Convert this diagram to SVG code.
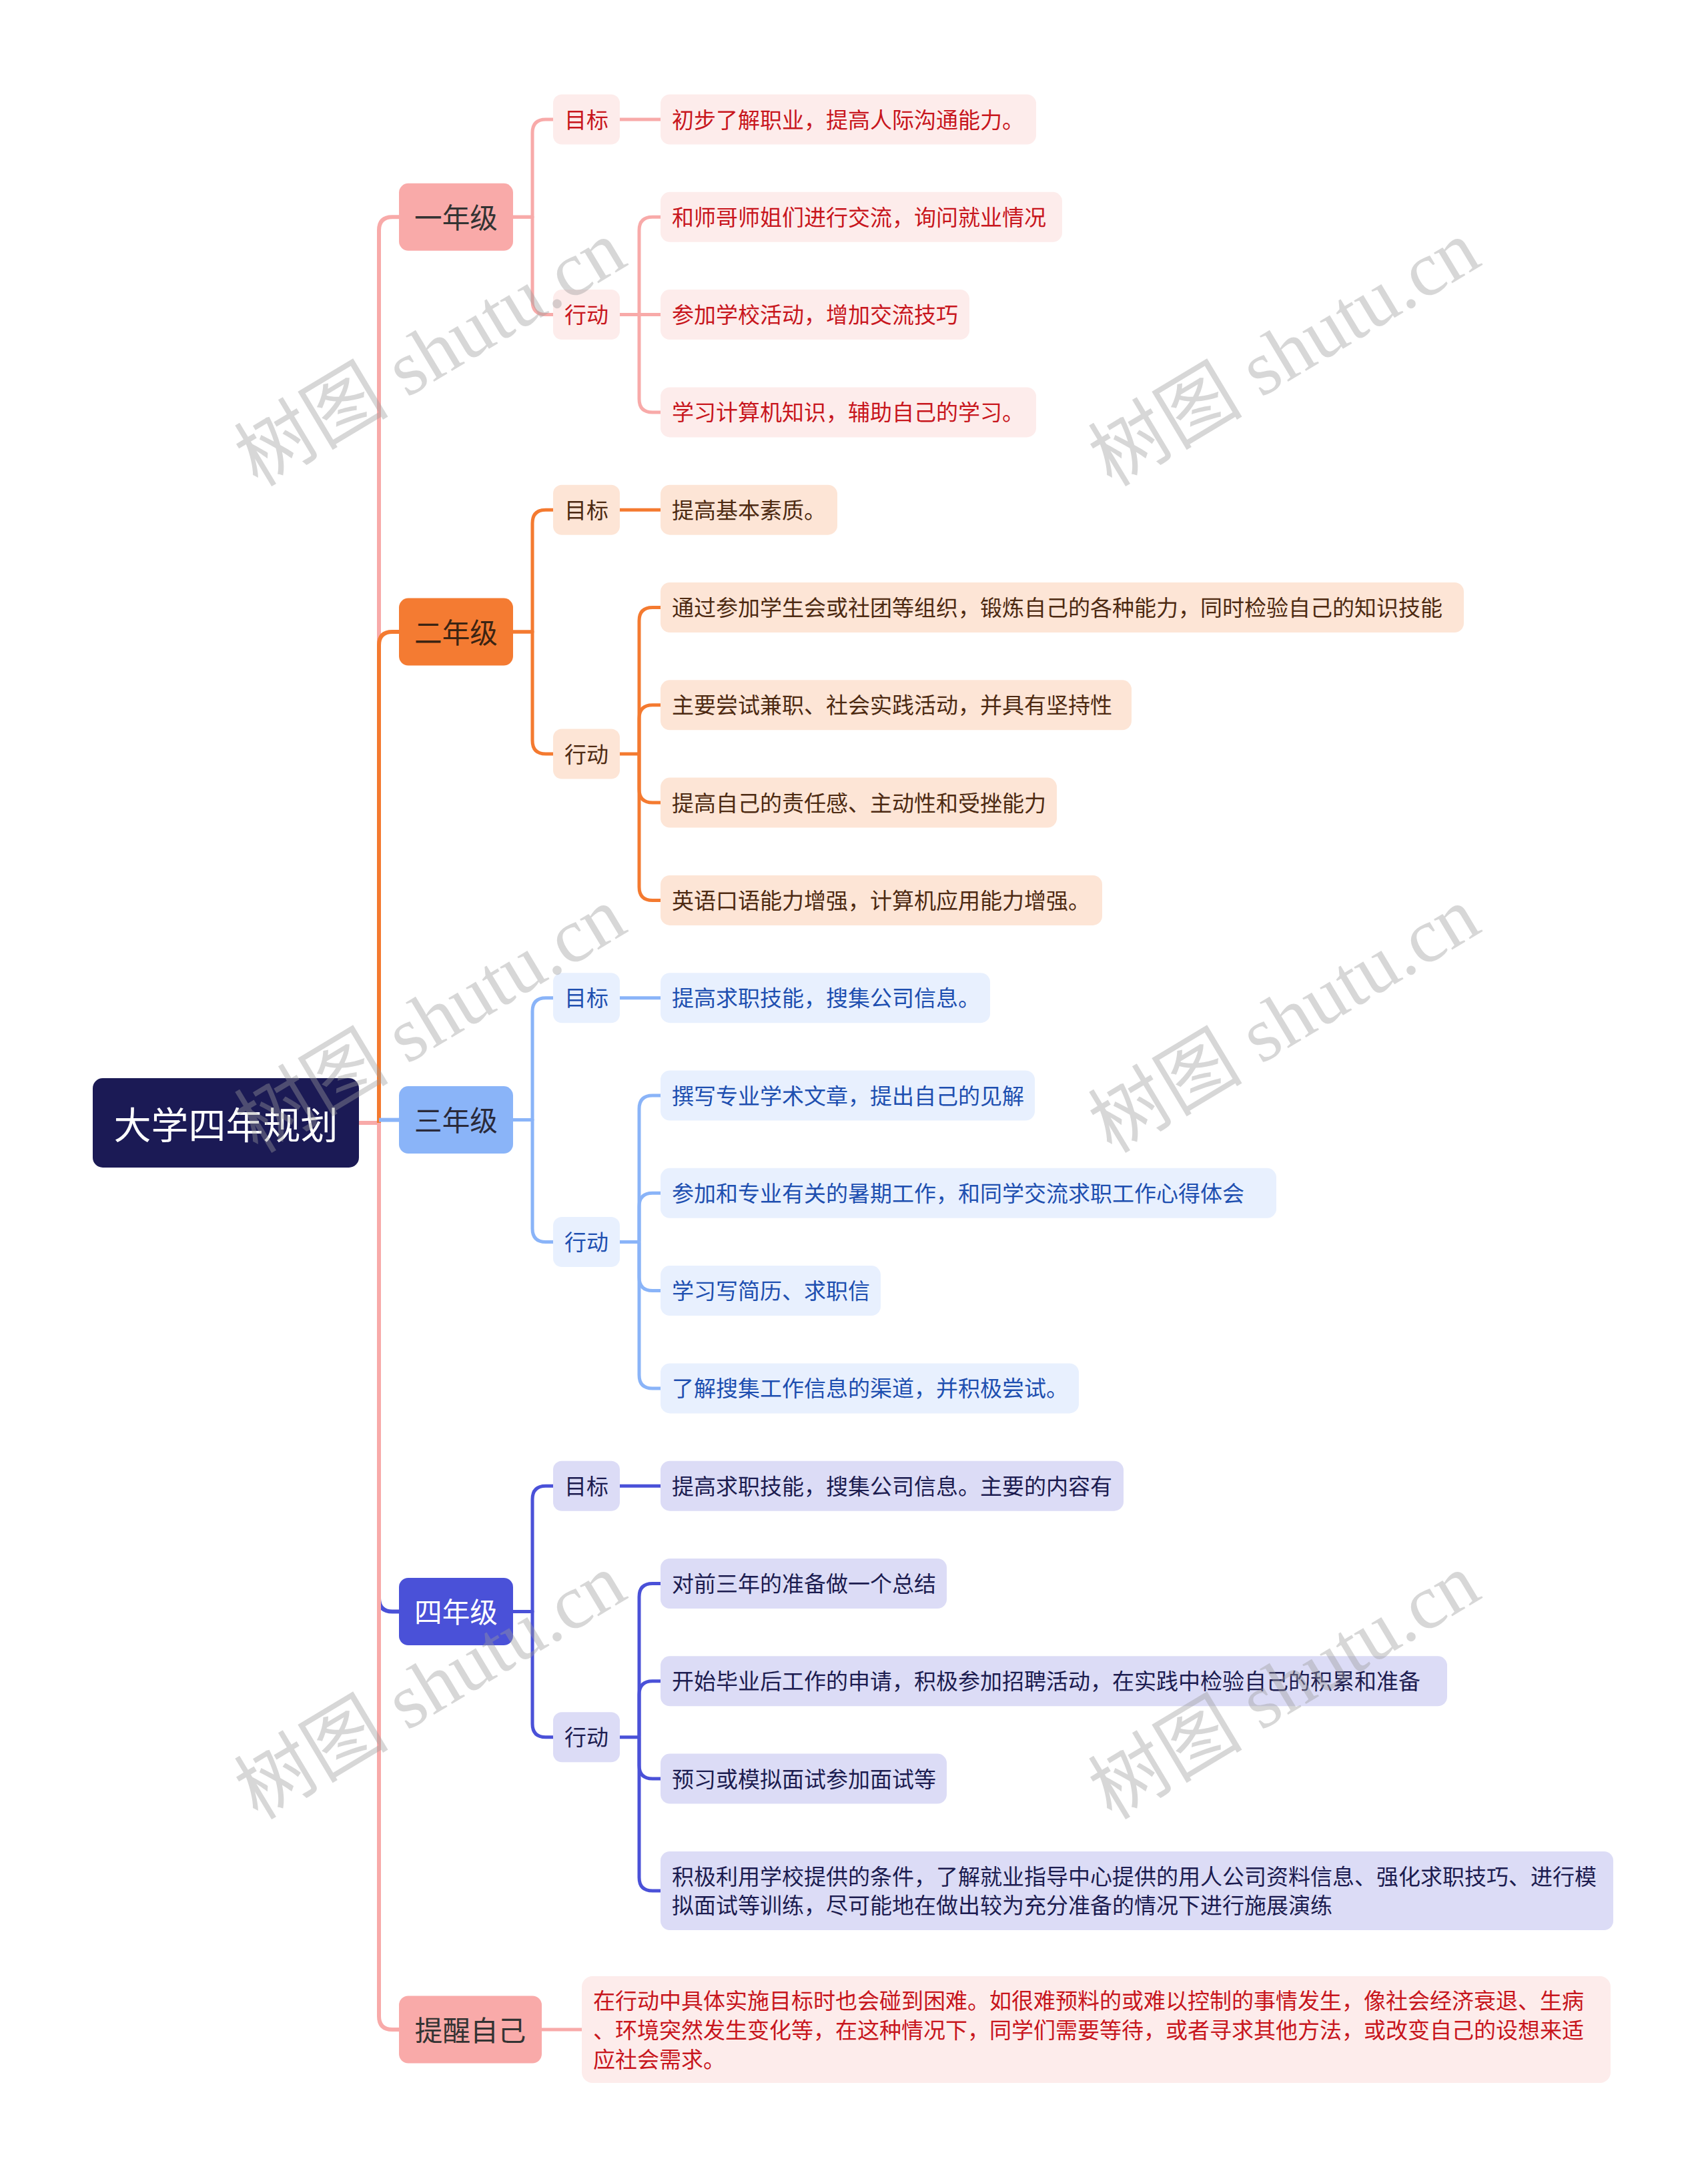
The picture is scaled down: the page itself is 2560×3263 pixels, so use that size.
<svg xmlns="http://www.w3.org/2000/svg" width="2560" height="3263" viewBox="0 0 2560 3263">
<style>
.t{font-family:"Noto Sans CJK SC","Noto Sans",sans-serif;dominant-baseline:central}
.s{font-size:33px}
.m{text-anchor:middle}
.l1{font-size:41.6px;text-anchor:middle}
.c{fill:none;stroke-width:5;stroke-linejoin:round}
.tr{fill:none;stroke-width:6;stroke-linejoin:miter}
.p1{stroke:#f8aaa9}.f1{fill:#fdeceb}.x1{fill:#c8161d}
.p2{stroke:#f47a30}.f2{fill:#fde5d6}.x2{fill:#4d2a12}
.p3{stroke:#8ab4f8}.f3{fill:#e8f0fe}.x3{fill:#1e4fb0}
.p4{stroke:#4a51d8}.f4{fill:#dcdcf6}.x4{fill:#1c1c50}
.wm{font-family:"Liberation Serif","Noto Sans CJK SC",serif;font-size:116px;fill:#9a9a9a;fill-opacity:.4;text-anchor:middle;dominant-baseline:central}
</style>
<rect width="2560" height="3263" fill="#ffffff"/>
<g id="connectors">
<path class="tr p1" d="M538 1683 H568 V345.3 Q568 325.3 588 325.3 H598"/>
<path class="tr p4" d="M568 1683 V2395.5 Q568 2415.5 588 2415.5 H598"/>
<path class="tr p1" d="M538 1683 H568 V3022 Q568 3042 588 3042 H598"/>
<path class="tr p2" d="M568 1683 V967.1 Q568 947.1 588 947.1 H598"/>
<path class="tr p3" d="M568 1678.6 H598"/>
<path class="c p1" d="M769 325.3 H798 V199 Q798 179 818 179 H829"/>
<path class="c p1" d="M769 325.3 H798 V451.6 Q798 471.6 818 471.6 H829"/>
<path class="c p1" d="M929 179 H990"/>
<path class="c p1" d="M929 471.6 H990"/>
<path class="c p1" d="M958 471.6 V345.3 Q958 325.3 978 325.3 H990"/>
<path class="c p1" d="M958 471.6 V597.9 Q958 617.9 978 617.9 H990"/>
<path class="c p2" d="M769 947.1 H798 V784.2 Q798 764.2 818 764.2 H829"/>
<path class="c p2" d="M769 947.1 H798 V1110 Q798 1130 818 1130 H829"/>
<path class="c p2" d="M929 764.2 H990"/>
<path class="c p2" d="M929 1130 H958"/>
<path class="c p2" d="M958 1130 V930.5 Q958 910.5 978 910.5 H990"/>
<path class="c p2" d="M958 1130 V1076.8 Q958 1056.8 978 1056.8 H990"/>
<path class="c p2" d="M958 1130 V1183.1 Q958 1203.1 978 1203.1 H990"/>
<path class="c p2" d="M958 1130 V1329.4 Q958 1349.4 978 1349.4 H990"/>
<path class="c p3" d="M769 1678.6 H798 V1515.7 Q798 1495.7 818 1495.7 H829"/>
<path class="c p3" d="M769 1678.6 H798 V1841.5 Q798 1861.5 818 1861.5 H829"/>
<path class="c p3" d="M929 1495.7 H990"/>
<path class="c p3" d="M929 1861.5 H958"/>
<path class="c p3" d="M958 1861.5 V1662 Q958 1642 978 1642 H990"/>
<path class="c p3" d="M958 1861.5 V1808.3 Q958 1788.3 978 1788.3 H990"/>
<path class="c p3" d="M958 1861.5 V1914.6 Q958 1934.6 978 1934.6 H990"/>
<path class="c p3" d="M958 1861.5 V2060.9 Q958 2080.9 978 2080.9 H990"/>
<path class="c p4" d="M769 2415.5 H798 V2247.2 Q798 2227.2 818 2227.2 H829"/>
<path class="c p4" d="M769 2415.5 H798 V2583.8 Q798 2603.8 818 2603.8 H829"/>
<path class="c p4" d="M929 2227.2 H990"/>
<path class="c p4" d="M929 2603.8 H958"/>
<path class="c p4" d="M958 2603.8 V2393.5 Q958 2373.5 978 2373.5 H990"/>
<path class="c p4" d="M958 2603.8 V2539.8 Q958 2519.8 978 2519.8 H990"/>
<path class="c p4" d="M958 2603.8 V2646.1 Q958 2666.1 978 2666.1 H990"/>
<path class="c p4" d="M958 2603.8 V2814 Q958 2834 978 2834 H990"/>
<path class="c p1" d="M812 3042 H872"/>
</g>
<g id="root">
<rect x="139" y="1616" width="399" height="134" rx="15" fill="#1b1a55"/>
<text class="t m" x="338.5" y="1682" font-size="56" fill="#ffffff">大学四年规划</text>
</g>
<g id="grade1">
<rect x="598" y="274.8" width="171" height="101" rx="14" fill="#f9aaa9"/>
<text class="t l1" x="683.5" y="324" fill="#333333">一年级</text>
</g>
<g id="grade1-goal">
<rect x="829" y="141.5" width="100" height="75" rx="13" class="f1"/>
<text class="t s m x1" x="879" y="177.5">目标</text>
</g>
<g id="grade1-goal-1">
<rect x="990" y="141.5" width="563" height="75" rx="14" class="f1"/>
<text class="t s x1" x="1007" y="177.5">初步了解职业，提高人际沟通能力。</text>
</g>
<g id="grade1-action">
<rect x="829" y="434.1" width="100" height="75" rx="13" class="f1"/>
<text class="t s m x1" x="879" y="470">行动</text>
</g>
<g id="grade1-action-1">
<rect x="990" y="287.8" width="602" height="75" rx="14" class="f1"/>
<text class="t s x1" x="1007" y="323.8">和师哥师姐们进行交流，询问就业情况</text>
</g>
<g id="grade1-action-2">
<rect x="990" y="434.1" width="463" height="75" rx="14" class="f1"/>
<text class="t s x1" x="1007" y="470">参加学校活动，增加交流技巧</text>
</g>
<g id="grade1-action-3">
<rect x="990" y="580.4" width="563" height="75" rx="14" class="f1"/>
<text class="t s x1" x="1007" y="616.4">学习计算机知识，辅助自己的学习。</text>
</g>
<g id="grade2">
<rect x="598" y="896.6" width="171" height="101" rx="14" fill="#f47b32"/>
<text class="t l1" x="683.5" y="945.8" fill="#3b2413">二年级</text>
</g>
<g id="grade2-goal">
<rect x="829" y="726.7" width="100" height="75" rx="13" class="f2"/>
<text class="t s m x2" x="879" y="762.7">目标</text>
</g>
<g id="grade2-goal-1">
<rect x="990" y="726.7" width="265" height="75" rx="14" class="f2"/>
<text class="t s x2" x="1007" y="762.7">提高基本素质。</text>
</g>
<g id="grade2-action">
<rect x="829" y="1092.5" width="100" height="75" rx="13" class="f2"/>
<text class="t s m x2" x="879" y="1128.5">行动</text>
</g>
<g id="grade2-action-1">
<rect x="990" y="873" width="1204" height="75" rx="14" class="f2"/>
<text class="t s x2" x="1007" y="909">通过参加学生会或社团等组织，锻炼自己的各种能力，同时检验自己的知识技能</text>
</g>
<g id="grade2-action-2">
<rect x="990" y="1019.3" width="706" height="75" rx="14" class="f2"/>
<text class="t s x2" x="1007" y="1055.3">主要尝试兼职、社会实践活动，并具有坚持性</text>
</g>
<g id="grade2-action-3">
<rect x="990" y="1165.6" width="594" height="75" rx="14" class="f2"/>
<text class="t s x2" x="1007" y="1201.6">提高自己的责任感、主动性和受挫能力</text>
</g>
<g id="grade2-action-4">
<rect x="990" y="1311.9" width="662" height="75" rx="14" class="f2"/>
<text class="t s x2" x="1007" y="1347.9">英语口语能力增强，计算机应用能力增强。</text>
</g>
<g id="grade3">
<rect x="598" y="1628.1" width="171" height="101" rx="14" fill="#8ab4f8"/>
<text class="t l1" x="683.5" y="1677.3" fill="#2a2a3a">三年级</text>
</g>
<g id="grade3-goal">
<rect x="829" y="1458.2" width="100" height="75" rx="13" class="f3"/>
<text class="t s m x3" x="879" y="1494.2">目标</text>
</g>
<g id="grade3-goal-1">
<rect x="990" y="1458.2" width="494" height="75" rx="14" class="f3"/>
<text class="t s x3" x="1007" y="1494.2">提高求职技能，搜集公司信息。</text>
</g>
<g id="grade3-action">
<rect x="829" y="1824" width="100" height="75" rx="13" class="f3"/>
<text class="t s m x3" x="879" y="1860">行动</text>
</g>
<g id="grade3-action-1">
<rect x="990" y="1604.5" width="561" height="75" rx="14" class="f3"/>
<text class="t s x3" x="1007" y="1640.5">撰写专业学术文章，提出自己的见解</text>
</g>
<g id="grade3-action-2">
<rect x="990" y="1750.8" width="923" height="75" rx="14" class="f3"/>
<text class="t s x3" x="1007" y="1786.8">参加和专业有关的暑期工作，和同学交流求职工作心得体会</text>
</g>
<g id="grade3-action-3">
<rect x="990" y="1897.1" width="330" height="75" rx="14" class="f3"/>
<text class="t s x3" x="1007" y="1933.1">学习写简历、求职信</text>
</g>
<g id="grade3-action-4">
<rect x="990" y="2043.4" width="627" height="75" rx="14" class="f3"/>
<text class="t s x3" x="1007" y="2079.4">了解搜集工作信息的渠道，并积极尝试。</text>
</g>
<g id="grade4">
<rect x="598" y="2365" width="171" height="101" rx="14" fill="#4a51d8"/>
<text class="t l1" x="683.5" y="2414.2" fill="#ffffff">四年级</text>
</g>
<g id="grade4-goal">
<rect x="829" y="2189.7" width="100" height="75" rx="13" class="f4"/>
<text class="t s m x4" x="879" y="2225.7">目标</text>
</g>
<g id="grade4-goal-1">
<rect x="990" y="2189.7" width="694" height="75" rx="14" class="f4"/>
<text class="t s x4" x="1007" y="2225.7">提高求职技能，搜集公司信息。主要的内容有</text>
</g>
<g id="grade4-action">
<rect x="829" y="2566.3" width="100" height="75" rx="13" class="f4"/>
<text class="t s m x4" x="879" y="2602.3">行动</text>
</g>
<g id="grade4-action-1">
<rect x="990" y="2336" width="429" height="75" rx="14" class="f4"/>
<text class="t s x4" x="1007" y="2372">对前三年的准备做一个总结</text>
</g>
<g id="grade4-action-2">
<rect x="990" y="2482.3" width="1179" height="75" rx="14" class="f4"/>
<text class="t s x4" x="1007" y="2518.3">开始毕业后工作的申请，积极参加招聘活动，在实践中检验自己的积累和准备</text>
</g>
<g id="grade4-action-3">
<rect x="990" y="2628.6" width="429" height="75" rx="14" class="f4"/>
<text class="t s x4" x="1007" y="2664.6">预习或模拟面试参加面试等</text>
</g>
<g id="grade4-action-4">
<rect x="990" y="2775" width="1428" height="118" rx="14" class="f4"/>
<text class="t s x4" x="1007" y="2811">积极利用学校提供的条件，了解就业指导中心提供的用人公司资料信息、强化求职技巧、进行模</text>
<text class="t s x4" x="1007" y="2854">拟面试等训练，尽可能地在做出较为充分准备的情况下进行施展演练</text>
</g>
<g id="reminder">
<rect x="598" y="2991.5" width="214" height="101" rx="14" fill="#f9aaa9"/>
<text class="t l1" x="705" y="3040.7" fill="#333333">提醒自己</text>
</g>
<g id="reminder-1">
<rect x="872" y="2962" width="1542" height="160" rx="16" class="f1"/>
<text class="t s x1" x="889" y="2996.5">在行动中具体实施目标时也会碰到困难。如很难预料的或难以控制的事情发生，像社会经济衰退、生病</text>
<text class="t s x1" x="889" y="3040.5">、环境突然发生变化等，在这种情况下，同学们需要等待，或者寻求其他方法，或改变自己的设想来适</text>
<text class="t s x1" x="889" y="3084.5">应社会需求。</text>
</g>
<g id="watermarks">
<text class="wm" transform="translate(645 530) rotate(-31)">树图 shutu.cn</text>
<text class="wm" transform="translate(1925 530) rotate(-31)">树图 shutu.cn</text>
<text class="wm" transform="translate(645 1529) rotate(-31)">树图 shutu.cn</text>
<text class="wm" transform="translate(1925 1529) rotate(-31)">树图 shutu.cn</text>
<text class="wm" transform="translate(645 2528) rotate(-31)">树图 shutu.cn</text>
<text class="wm" transform="translate(1925 2528) rotate(-31)">树图 shutu.cn</text>
</g>
</svg>
